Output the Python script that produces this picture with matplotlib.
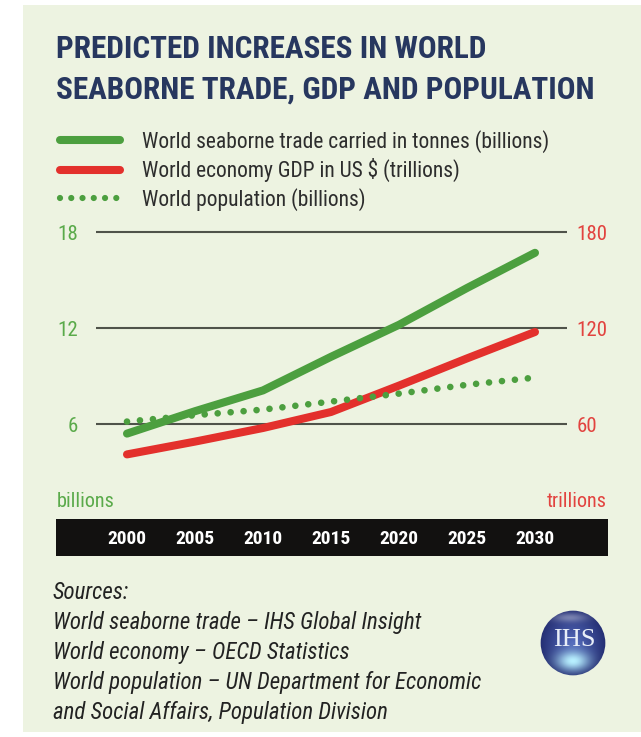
import os
import matplotlib
matplotlib.use("Agg")
import matplotlib.pyplot as plt
from matplotlib import font_manager as fm
from matplotlib.patches import Rectangle, Circle
from matplotlib.lines import Line2D
import numpy as np

# datos
years = [2000, 2005, 2010, 2015, 2020, 2025, 2030]
trade = [5.4, 6.8, 8.1, 10.2, 12.2, 14.5, 16.7]          # billones de toneladas
gdp = [41, 49, 57.5, 67.5, 84, 101, 117.5]               # trillones US$
population = [6.15, 6.55, 6.9, 7.4, 7.9, 8.45, 8.9]      # billones

left_ticks = [6, 12, 18]
right_ticks = [60, 120, 180]

labels = ["World seaborne trade carried in tonnes (billions)",
          "World economy GDP in US $ (trillions)",
          "World population (billions)"]
title_lines = ["PREDICTED INCREASES IN WORLD",
               "SEABORNE TRADE, GDP AND POPULATION"]
sources = ["Sources:",
           "World seaborne trade \u2013 IHS Global Insight",
           "World economy \u2013 OECD Statistics",
           "World population \u2013 UN Department for Economic",
           "and Social Affairs, Population Division"]

W, H = 641, 737
GREEN = '#4c9f3f'
RED = '#e3302c'
NAVY = '#27375f'
BG = '#edf3e1'


# buscar una fuente estrecha instalada
def buscar_fuente(nombres, weight='normal', style='normal'):
    archivos = {os.path.basename(f.fname): f.fname for f in fm.fontManager.ttflist}
    for n in nombres:
        if n in archivos:
            return fm.FontProperties(fname=archivos[n])
    return fm.FontProperties(family='DejaVu Sans', weight=weight, style=style)


F_REG = buscar_fuente(['LiberationSansNarrow-Regular.ttf', 'RobotoCondensed-Regular.ttf',
                       'NotoSans-Condensed.ttf', 'DejaVuSansCondensed.ttf'])
F_BOLD = buscar_fuente(['LiberationSansNarrow-Bold.ttf', 'RobotoCondensed-Bold.ttf',
                        'NotoSans-CondensedBold.ttf', 'DejaVuSansCondensed-Bold.ttf'], weight='bold')
F_ITAL = buscar_fuente(['LiberationSansNarrow-Italic.ttf', 'RobotoCondensed-Italic.ttf',
                        'NotoSans-CondensedItalic.ttf', 'DejaVuSansCondensed-Oblique.ttf'], style='italic')


def fuente(base, size):
    f = base.copy()
    f.set_size(size)
    return f


def fx(px):
    return px / W


def fy(py):
    return 1 - py / H


def box(x0, y0, x1, y1):
    return [fx(x0), fy(y1), fx(x1) - fx(x0), fy(y0) - fy(y1)]


fig = plt.figure(figsize=(W / 100, H / 100), dpi=100)
fig.patch.set_facecolor('white')
fig.patches.append(Rectangle((fx(23), fy(732)), fx(641) - fx(23), fy(5) - fy(732),
                             transform=fig.transFigure, facecolor=BG, edgecolor='none', zorder=-5))

# titulo
fig.text(fx(56), fy(58), title_lines[0], fontproperties=fuente(F_BOLD, 22.5), color=NAVY)
fig.text(fx(56), fy(99), title_lines[1], fontproperties=fuente(F_BOLD, 22.5), color=NAVY)

# ejes principales
px_year = (535 - 127) / 30
ax = fig.add_axes(box(96, 224, 567, 472))
ax2 = ax.twinx()
ax.set_zorder(ax2.get_zorder() + 1)
ax.patch.set_visible(False)
ax2.patch.set_visible(False)

ax.set_xlim(2000 - (127 - 96) / px_year, 2030 + (567 - 535) / px_year)
ax.set_ylim(3, 18.5)
ax2.set_ylim(30, 185)

l_trade, = ax.plot(years, trade, color=GREEN, lw=5.8, solid_capstyle='round', solid_joinstyle='round')
l_pop, = ax.plot(years, population, color=GREEN, lw=4.8, linestyle=(0, (0.001, 1.95)),
                 dash_capstyle='round')
l_gdp, = ax2.plot(years, gdp, color=RED, lw=5.8, solid_capstyle='round', solid_joinstyle='round')

ax.set_yticks(left_ticks)
ax2.set_yticks(right_ticks)
ax2.yaxis.grid(True, color='#4f534a', lw=1.5)
ax.set_xticks([])
for a in (ax, ax2):
    for s in a.spines.values():
        s.set_visible(False)
ax.tick_params(axis='y', length=0, pad=13, labelcolor='#5aaa4a')
ax2.tick_params(axis='y', length=0, pad=7, labelcolor='#e2433f')
for t in ax.get_yticklabels() + ax2.get_yticklabels():
    t.set_fontproperties(fuente(F_REG, 15))

fig.text(fx(57), fy(507), "billions", fontproperties=fuente(F_REG, 14.5), color='#5aaa4a')
fig.text(fx(607), fy(507), "trillions", fontproperties=fuente(F_REG, 14.5), color='#e2433f', ha='right')

# barra negra de anos
ax_bar = fig.add_axes(box(56, 519, 608, 556))
ax_bar.set_facecolor('#121110')
ax_bar.set_xlim(2000 - (127 - 56) / px_year, 2030 + (608 - 535) / px_year)
ax_bar.set_xticks([])
ax_bar.set_yticks([])
for s in ax_bar.spines.values():
    s.set_visible(False)
for y in years:
    ax_bar.text(y, 0.45, str(y), transform=ax_bar.get_xaxis_transform(), ha='center', va='center',
                color='white', fontproperties=fuente(F_BOLD, 14))

# leyenda (los puntos de la leyenda van un poco mas juntos)
pop_key = Line2D([], [], color=GREEN, lw=4.5, linestyle=(0, (0.001, 1.8)), dash_capstyle='round')
leg = fig.legend([l_trade, l_gdp, pop_key], labels, loc='upper left',
                 bbox_to_anchor=(fx(60), fy(130)), frameon=False, borderpad=0, borderaxespad=0,
                 handlelength=2.78, handletextpad=1.02, labelspacing=0.25,
                 prop=fuente(F_REG, 15.5))
for t in leg.get_texts():
    t.set_color('#2d2d2d')

# fuentes
for i, s in enumerate(sources):
    fig.text(fx(53), fy(599 + 30 * i), s, fontproperties=fuente(F_ITAL, 16.5), color='#222222')

# logo IHS
ax_logo = fig.add_axes(box(540, 610, 606, 676))
ax_logo.set_xlim(-1, 1)
ax_logo.set_ylim(-1, 1)
ax_logo.set_aspect('equal')
ax_logo.axis('off')
g = np.linspace(-1, 1, 200)
gx, gy = np.meshgrid(g, g)
r = np.sqrt(gx ** 2 + gy ** 2)
dark = np.array([0.14, 0.18, 0.45])
mid = np.array([0.33, 0.42, 0.74])
cyan = np.array([0.72, 0.94, 1.0])
t_mid = np.clip(1 - r, 0, 1)[..., None]
img = dark * (1 - t_mid) + mid * t_mid
glow = np.exp(-((gx) ** 2 / 0.25 + (gy + 0.55) ** 2 / 0.09))[..., None]
img = img * (1 - glow) + cyan * glow
shine = 0.35 * np.exp(-((gx + 0.1) ** 2 / 0.3 + (gy - 0.75) ** 2 / 0.02))[..., None]
img = img * (1 - shine) + shine
img = np.clip(img, 0, 1)
im = ax_logo.imshow(img, extent=(-1, 1, -1, 1), origin='lower', interpolation='bilinear')
clip = Circle((0, 0), 0.98, transform=ax_logo.transData)
im.set_clip_path(clip)
ax_logo.text(0.03, 0.1, "IHS", ha='center', va='center', color='#e8eef8',
             family=['Liberation Serif', 'DejaVu Serif'], fontsize=19)

fig.savefig("out.png", dpi=100, facecolor=fig.get_facecolor())
